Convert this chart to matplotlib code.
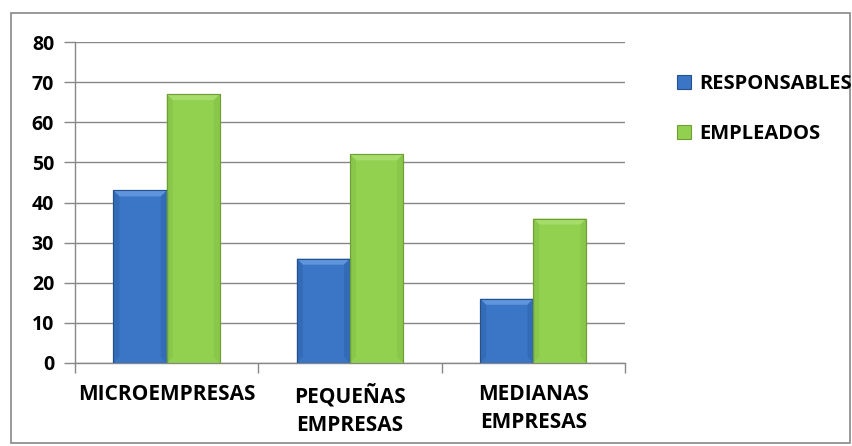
import matplotlib.pyplot as plt
import numpy as np
from matplotlib.patches import Rectangle, Polygon

plt.rcParams["font.family"] = ["Open Sans", "DejaVu Sans"]
plt.rcParams["font.weight"] = "bold"

# ── Data ─────────────────────────────────────────────────────────────
categories = ["MICROEMPRESAS", "PEQUEÑAS\nEMPRESAS", "MEDIANAS\nEMPRESAS"]
series = ["RESPONSABLES", "EMPLEADOS"]
responsables = [43, 26, 16]
empleados = [67, 52, 36]

colors = ["#3b76c6", "#92d050"]
edge_dark = ["#24508e", "#6e9e36"]
light = ["#5f95dc", "#a6dc6a"]
dark = ["#2d62aa", "#80bf44"]

fig = plt.figure(figsize=(8.53, 4.46), dpi=100)
ax = fig.add_axes([75 / 853, 83 / 446, 550 / 853, 321 / 446])

# outer chart border
fig.patches.append(Rectangle((11 / 853, 3 / 446), 839 / 853, 430 / 446,
                             transform=fig.transFigure, fill=False,
                             edgecolor="#878787", linewidth=1.2))

x = np.arange(len(categories))
width = 0.29
ax.set_xlim(-0.5, len(categories) - 0.5)
ax.set_ylim(0, 80)

# bevel size in data units (≈6 px)
px_x = (ax.get_xlim()[1] - ax.get_xlim()[0]) / 550
px_y = 80 / 321
bx, by = 6 * px_x, 6 * px_y

for i, vals in enumerate([responsables, empleados]):
    offs = (i - 0.5) * width
    bars = ax.bar(x + offs, vals, width, color=colors[i], edgecolor=edge_dark[i],
                  linewidth=0.8, zorder=3, label=series[i])
    for bar in bars:
        x0, w, h = bar.get_x(), bar.get_width(), bar.get_height()
        x1 = x0 + w
        # top bevel (light)
        ax.add_patch(Polygon([(x0, h), (x1, h), (x1 - bx, h - by), (x0 + bx, h - by)],
                             closed=True, facecolor=light[i], edgecolor="none", zorder=4))
        # side bevels
        ax.add_patch(Polygon([(x0, 0), (x0, h), (x0 + bx, h - by), (x0 + bx, by)],
                             closed=True, facecolor=dark[i], edgecolor="none", zorder=4, alpha=0.5))
        ax.add_patch(Polygon([(x1, 0), (x1, h), (x1 - bx, h - by), (x1 - bx, by)],
                             closed=True, facecolor=dark[i], edgecolor="none", zorder=4, alpha=0.5))
        ax.add_patch(Rectangle((x0, 0), w, h, fill=False, edgecolor=edge_dark[i],
                               linewidth=0.8, zorder=5))

ax.set_yticks(np.arange(0, 81, 10))
ax.yaxis.grid(True, color="#878787", linewidth=1.0, zorder=0)
ax.tick_params(axis="y", length=8, width=1, color="#878787", pad=7, labelsize=14)
for lbl in ax.get_yticklabels():
    lbl.set_fontweight("bold")

# category boundaries as ticks, labels in between
ax.set_xticks(np.arange(-0.5, len(categories), 1.0))
ax.set_xticklabels([])
ax.set_xticks(x, minor=True)
ax.set_xticklabels(categories, minor=True, fontsize=15, fontweight="bold", linespacing=1.45)
ax.tick_params(axis="x", which="major", length=7, width=1, color="#878787")
ax.tick_params(axis="x", which="minor", length=0, pad=15)

for side in ["top", "right"]:
    ax.spines[side].set_visible(False)
for side in ["left", "bottom"]:
    ax.spines[side].set_color("#878787")
    ax.spines[side].set_linewidth(1.0)

leg = fig.legend(loc="upper left", bbox_to_anchor=(677 / 853, 1 - 74 / 446),
                 frameon=False, prop={"size": 14.5, "weight": "bold"},
                 borderpad=0, borderaxespad=0,
                 handlelength=0.7, handleheight=0.7,
                 handletextpad=0.4, labelspacing=1.5)

fig.savefig("out.png", dpi=100)
